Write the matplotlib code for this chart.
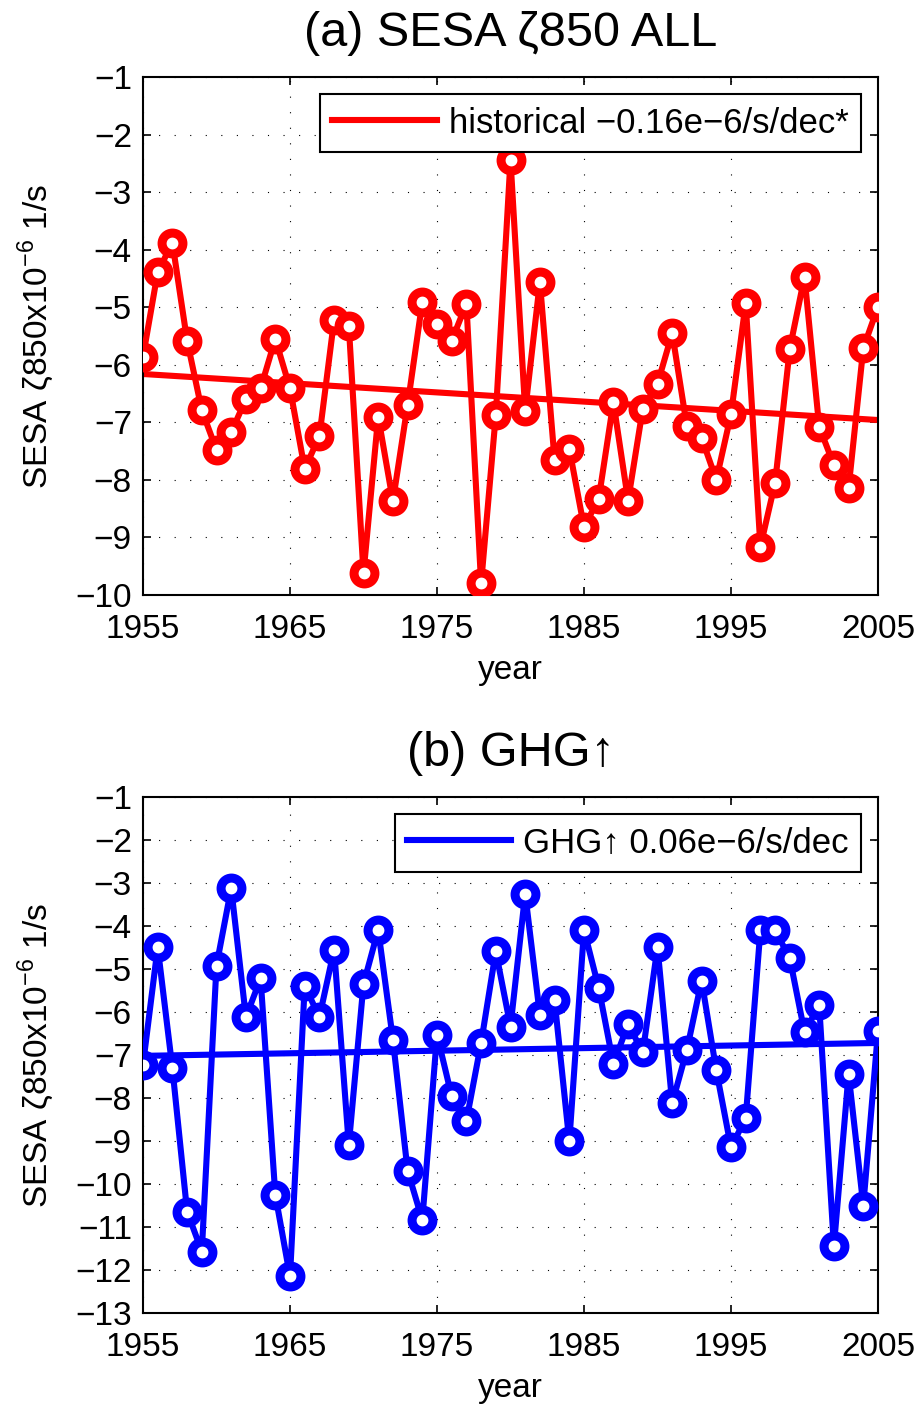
import numpy as np
import matplotlib
matplotlib.use("Agg")
import matplotlib.pyplot as plt

plt.rcParams['font.family'] = ['Liberation Sans', 'DejaVu Sans']

# anos
years = np.arange(1955, 2006)

# (a) historical
hist = [-5.86, -4.39, -3.88, -5.58, -6.79, -7.48, -7.17, -6.60, -6.41, -5.55,
        -6.41, -7.81, -7.24, -5.22, -5.32, -9.62, -6.90, -8.37, -6.70, -4.91,
        -5.29, -5.58, -4.94, -9.80, -6.87, -2.44, -6.80, -4.56, -7.66, -7.46,
        -8.82, -8.33, -6.65, -8.36, -6.76, -6.33, -5.45, -7.07, -7.27, -8.00,
        -6.86, -4.93, -9.16, -8.05, -5.72, -4.47, -7.08, -7.74, -8.14, -5.71,
        -4.99]
hist_trend = [-6.16, -6.96]   # 1955, 2005

# (b) GHG
ghg = [-7.23, -4.49, -7.31, -10.64, -11.57, -4.92, -3.12, -6.12, -5.22, -10.25,
       -12.15, -5.39, -6.12, -4.55, -9.09, -5.35, -4.09, -6.64, -9.69, -10.84,
       -6.53, -7.96, -8.53, -6.72, -4.59, -6.34, -3.25, -6.07, -5.73, -9.01,
       -4.09, -5.44, -7.21, -6.28, -6.94, -4.49, -8.12, -6.88, -5.27, -7.36,
       -9.15, -8.47, -4.09, -4.10, -4.75, -6.47, -5.84, -11.45, -7.44, -10.50,
       -6.45]
ghg_trend = [-7.02, -6.72]

xticks = [1955, 1965, 1975, 1985, 1995, 2005]
ylab = "SESA ζ850x10$^{\\mathregular{-6}}$ 1/s"

panels = [
    dict(y=hist, tr=hist_trend, c="#ff0000", ylim=(-10, -1),
         title="(a) SESA ζ850 ALL", leg="historical −0.16e−6/s/dec*",
         rect=[143/921, 1-595/1410, 735/921, 518/1410]),
    dict(y=ghg, tr=ghg_trend, c="#0000ff", ylim=(-13, -1),
         title="(b) GHG↑", leg="GHG↑ 0.06e−6/s/dec",
         rect=[143/921, 1-1313/1410, 735/921, 516/1410]),
]

fig = plt.figure(figsize=(9.21, 14.10), dpi=100)
for p in panels:
    ax = fig.add_axes(p["rect"])
    ax.plot(years, p["y"], "-o", color=p["c"], lw=4.4, ms=15, mew=6.5,
            mfc="white", mec=p["c"], zorder=3)
    ax.plot([years[0], years[-1]], p["tr"], "-", color=p["c"], lw=4.4,
            label=p["leg"], zorder=2)
    ax.set_xlim(1955, 2005); ax.set_ylim(*p["ylim"])
    ax.set_xticks(xticks)
    ax.set_yticks(np.arange(p["ylim"][0], p["ylim"][1] + 1))
    ax.grid(True, color="black", lw=0.8, linestyle=(0, (1, 13)))
    ax.tick_params(direction="in", top=True, right=True, length=6, width=1.2,
                   labelsize=24)
    ax.tick_params(axis="x", pad=14)
    ax.tick_params(axis="y", pad=8)
    for s in ax.spines.values():
        s.set_linewidth(1.5)
    ax.set_title(p["title"], fontsize=35, pad=22)
    ax.set_xlabel("year", fontsize=24, labelpad=7)
    ax.set_ylabel(ylab, fontsize=24, labelpad=14)
    lg = ax.legend(loc="upper right", fontsize=25, handlelength=3.0,
                   handletextpad=0.35, borderpad=0.35, borderaxespad=0.5,
                   fancybox=False, framealpha=1, edgecolor="black")
    lg.get_frame().set_linewidth(1.5)

fig.savefig("out.png", dpi=100)
